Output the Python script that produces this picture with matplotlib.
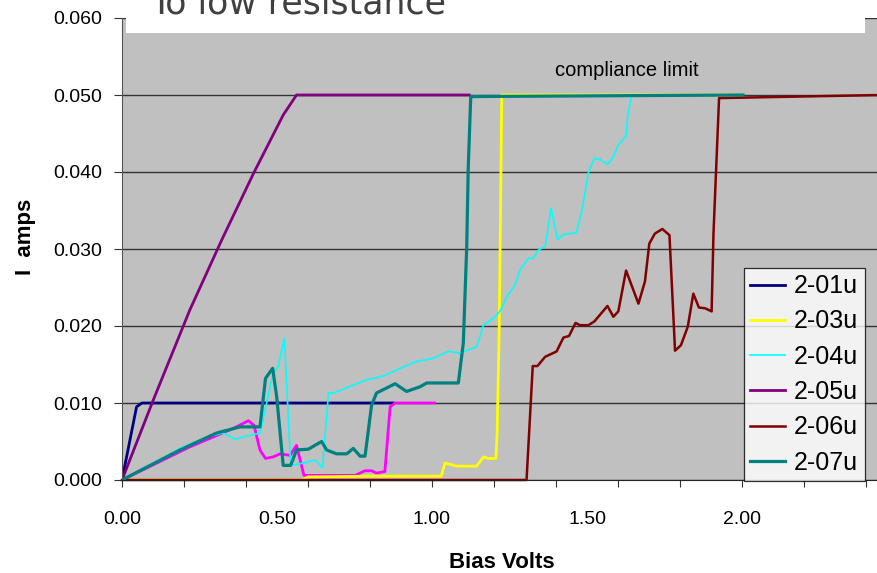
# I-V sweeps: switching to low resistance
import numpy as np
import matplotlib.pyplot as plt
from matplotlib.patches import Rectangle
from matplotlib.ticker import MultipleLocator, FormatStrFormatter

plt.rcParams['font.family'] = ['Liberation Sans', 'DejaVu Sans']

# values (Bias Volts, I amps)
v_01 = [0, 0.047, 0.064, 0.875]
i_01 = [0, 0.0095, 0.0100, 0.0100]

v_02 = [0, 0.219, 0.295, 0.359, 0.408, 0.426, 0.445, 0.463, 0.488, 0.51, 0.542,
        0.563, 0.587, 0.752, 0.784, 0.805, 0.821, 0.848, 0.865, 0.881, 1.008]
i_02 = [0, 0.0043, 0.0056, 0.0067, 0.0077, 0.0071, 0.0039, 0.0028, 0.0030, 0.0034, 0.0032,
        0.0045, 0.0006, 0.0006, 0.0012, 0.0012, 0.0009, 0.0011, 0.0095, 0.0100, 0.0100]

v_03 = [0, 0.58, 0.60, 0.80, 1.03, 1.042, 1.08, 1.144, 1.166, 1.18, 1.206, 1.21, 1.217, 1.225, 2.0]
i_03 = [0, 0, 0.0004, 0.0005, 0.0005, 0.0022, 0.0018, 0.0018, 0.0030, 0.0028, 0.0028,
        0.006, 0.0199, 0.050, 0.050]

v_04 = [0, 0.187, 0.273, 0.327, 0.365, 0.402, 0.445, 0.488, 0.504, 0.524, 0.544, 0.585,
        0.623, 0.647, 0.666, 0.682, 0.789, 0.843, 0.897, 0.951, 1.004, 1.053, 1.090, 1.144,
        1.166, 1.198, 1.219, 1.241, 1.268, 1.284, 1.311, 1.327, 1.344, 1.365, 1.384, 1.405,
        1.424, 1.465, 1.483, 1.505, 1.524, 1.542, 1.567, 1.585, 1.601, 1.626, 1.631, 1.642,
        1.645, 2.0]
i_04 = [0, 0.0041, 0.0056, 0.0061, 0.0053, 0.0057, 0.0061, 0.0139, 0.0147, 0.0184, 0.0019,
        0.0022, 0.0026, 0.0016, 0.0113, 0.0113, 0.0130, 0.0135, 0.0145, 0.0154, 0.0158,
        0.0167, 0.0165, 0.0173, 0.0201, 0.0210, 0.0219, 0.0238, 0.0253, 0.0273, 0.0288,
        0.0288, 0.0299, 0.0303, 0.0353, 0.0312, 0.0319, 0.0321, 0.0348, 0.0400, 0.0418,
        0.0416, 0.0410, 0.0420, 0.0435, 0.0447, 0.0472, 0.0496, 0.050, 0.050]

v_05 = [0, 0.101, 0.219, 0.322, 0.424, 0.520, 0.563, 1.12]
i_05 = [0, 0.0104, 0.0221, 0.0312, 0.0398, 0.0474, 0.050, 0.050]

v_06 = [0, 1.305, 1.325, 1.34, 1.365, 1.402, 1.424, 1.442, 1.463, 1.477, 1.504, 1.524,
        1.545, 1.566, 1.585, 1.601, 1.626, 1.666, 1.687, 1.701, 1.719, 1.743, 1.766, 1.784,
        1.803, 1.825, 1.843, 1.861, 1.881, 1.902, 1.908, 1.916, 1.926, 2.45]
i_06 = [0, 0, 0.0148, 0.0148, 0.0160, 0.0167, 0.0185, 0.0187, 0.0204, 0.0201, 0.0201,
        0.0206, 0.0216, 0.0226, 0.0212, 0.0219, 0.0272, 0.0229, 0.0258, 0.0307, 0.0320,
        0.0326, 0.0318, 0.0168, 0.0175, 0.0199, 0.0242, 0.0224, 0.0223, 0.0219, 0.0320,
        0.0398, 0.0496, 0.050]

v_07 = [0, 0.187, 0.305, 0.381, 0.445, 0.463, 0.486, 0.499, 0.520, 0.544, 0.563, 0.601,
        0.644, 0.660, 0.692, 0.725, 0.746, 0.768, 0.784, 0.805, 0.821, 0.881, 0.918, 0.961,
        0.983, 1.085, 1.101, 1.112, 1.117, 1.125, 2.003]
i_07 = [0, 0.0039, 0.0061, 0.0069, 0.0069, 0.0132, 0.0145, 0.0108, 0.0019, 0.0019, 0.0039,
        0.0040, 0.0050, 0.0039, 0.0034, 0.0034, 0.0041, 0.0031, 0.0031, 0.0097, 0.0113,
        0.0125, 0.0115, 0.0121, 0.0126, 0.0126, 0.0178, 0.0303, 0.0407, 0.0498, 0.0500]

fig = plt.figure(figsize=(8.77, 5.73), dpi=100)
ax = fig.add_axes([122 / 877, 93 / 573, 755 / 877, 462 / 573])
ax.set_facecolor('#c0c0c0')

ax.plot(v_01, i_01, color='#000080', lw=2, label='2-01u')
ax.plot(v_02, i_02, color='#ff00ff', lw=2)
ax.plot(v_03, i_03, color='#ffff00', lw=2, label='2-03u')
ax.plot(v_04, i_04, color='#00ffff', lw=1.2, label='2-04u')
ax.plot(v_05, i_05, color='#800080', lw=2, label='2-05u')
ax.plot(v_06, i_06, color='#800000', lw=1.8, label='2-06u', clip_on=False)
ax.plot(v_07, i_07, color='#008080', lw=2.3, label='2-07u')

ax.set_xlim(0, 755 / 310)
ax.set_ylim(0, 0.060)

ax.yaxis.set_major_locator(MultipleLocator(0.010))
ax.yaxis.set_major_formatter(FormatStrFormatter('%.3f'))
ax.xaxis.set_major_locator(MultipleLocator(0.5))
ax.xaxis.set_minor_locator(MultipleLocator(0.2))
ax.xaxis.set_major_formatter(FormatStrFormatter('%.2f'))
ax.xaxis.remove_overlapping_locs = False
ax.tick_params(axis='x', which='major', length=0, pad=22, labelsize=14)
ax.tick_params(axis='x', which='minor', length=5, width=0.8, color='#333333')
ax.tick_params(axis='y', length=6, width=0.8, color='#333333', pad=8, labelsize=14)

ax.grid(axis='y', color='#333333', lw=1.0)
ax.set_axisbelow(True)
for s in ['top', 'right']:
    ax.spines[s].set_visible(False)
ax.spines['left'].set_color('#555555')
ax.spines['bottom'].set_color('#222222')

ax.text(1.629, 0.0532, 'compliance limit', fontsize=14.5, ha='center', va='center')

fig.text(502 / 877, 1 - 562 / 573, 'Bias Volts', fontsize=16, fontweight='bold',
         ha='center', va='center')
fig.text(26 / 877, 1 - 237 / 573, 'I  amps', fontsize=16, fontweight='bold',
         ha='center', va='center', rotation=90)

# white title box at the top, cut by the figure edge
fig.add_artist(Rectangle((126 / 877, 1 - 33 / 573), (865 - 126) / 877, 33 / 573,
                         transform=fig.transFigure, facecolor='white',
                         edgecolor='none', zorder=10))
fig.text(150 / 877, 1 - 14 / 573, 'To low resistance', fontsize=25, color='#404040',
         family='DejaVu Sans', ha='left', va='baseline', zorder=11)

leg = fig.legend(loc='upper left', bbox_to_anchor=(744 / 877, 1 - 268 / 573),
                 fontsize=18, frameon=True, fancybox=False, borderaxespad=0,
                 handlelength=1.4, handletextpad=0.35, labelspacing=0.45,
                 borderpad=0.25)
leg.get_frame().set_edgecolor('black')
leg.get_frame().set_linewidth(0.9)
leg.set_zorder(12)

fig.savefig('out.png', dpi=100)
